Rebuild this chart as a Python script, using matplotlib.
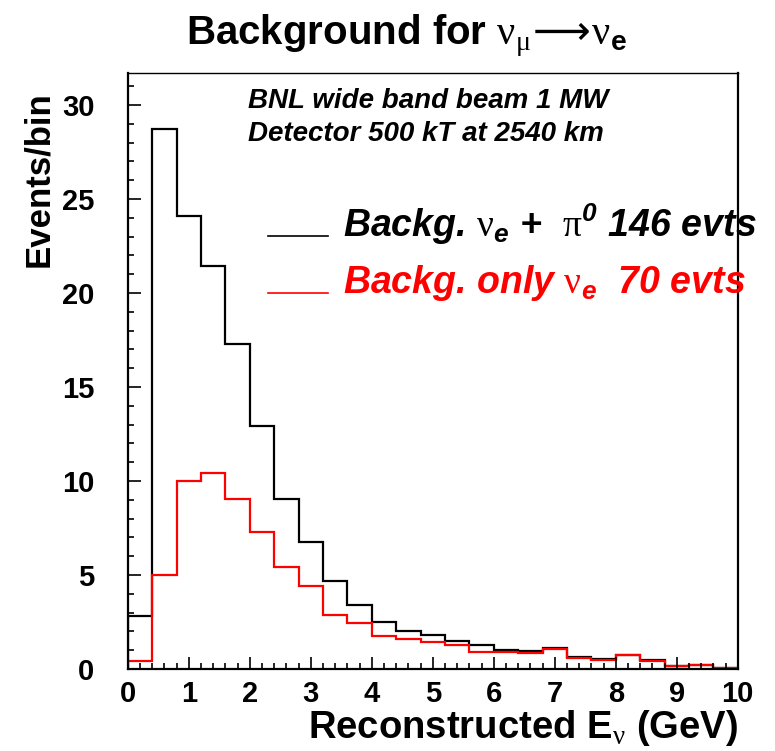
import numpy as np
import matplotlib
matplotlib.use("Agg")
import matplotlib.pyplot as plt
from matplotlib.ticker import MultipleLocator

# ---- data ----
bin_edges = np.round(np.arange(0, 10.0001, 0.4), 2)
bkg_total = [2.8, 28.7, 24.1, 21.45, 17.3, 12.95, 9.05, 6.75, 4.7, 3.4,
             2.5, 2.0, 1.8, 1.5, 1.25, 1.0, 0.95, 1.09, 0.64, 0.52,
             0.75, 0.48, 0.16, 0.23, 0.07]
bkg_nue = [0.42, 5.0, 10.0, 10.44, 9.05, 7.27, 5.4, 4.4, 2.87, 2.42,
           1.76, 1.57, 1.41, 1.27, 0.93, 0.89, 0.86, 1.05, 0.59, 0.48,
           0.73, 0.44, 0.14, 0.2, 0.05]
xticks = [0, 1, 2, 3, 4, 5, 6, 7, 8, 9, 10]
yticks = [0, 5, 10, 15, 20, 25, 30]

plt.rcParams['font.family'] = ['Liberation Sans', 'DejaVu Sans']
plt.rcParams['font.weight'] = 'bold'
plt.rcParams['mathtext.fontset'] = 'custom'
plt.rcParams['mathtext.rm'] = 'Liberation Serif:weight=normal:style=normal'
plt.rcParams['mathtext.bf'] = 'Liberation Sans:weight=bold:style=normal'
plt.rcParams['mathtext.it'] = 'Liberation Sans:weight=bold:style=italic'
plt.rcParams['mathtext.cal'] = 'Liberation Sans:weight=bold:style=italic'
plt.rcParams['mathtext.sf'] = 'DejaVu Sans:weight=normal:style=normal'
plt.rcParams['mathtext.fallback'] = 'stix'

fig = plt.figure(figsize=(7.75, 7.51), dpi=100)
ax = fig.add_axes([0.165, 0.1092, 0.787, 0.7936])

ax.stairs(bkg_total, bin_edges, color='black', lw=1.6, baseline=0)
ax.stairs(bkg_nue, bin_edges, color='#ff0000', lw=1.6, baseline=0)

ax.set_xlim(0, 10)
ax.set_ylim(0, 31.7)
ax.set_xticks(xticks)
ax.set_yticks(yticks)
ax.xaxis.set_minor_locator(MultipleLocator(0.2))
ax.yaxis.set_minor_locator(MultipleLocator(1))
ax.tick_params(which='both', direction='in', top=False, right=False, width=1.2)
ax.tick_params(which='major', length=9)
ax.tick_params(which='minor', length=4.5)
ax.tick_params(axis='x', which='major', labelsize=21, pad=8)
ax.tick_params(axis='y', which='major', labelsize=21, pad=24)
for lab in ax.get_xticklabels() + ax.get_yticklabels():
    lab.set_fontweight('bold')
for s in ['left', 'bottom', 'right']:
    ax.spines[s].set_linewidth(1.6)
ax.spines['top'].set_linewidth(1.0)

ax.set_xlabel(r'Reconstructed E$_{\mathrm{\nu}}$ (GeV)', fontsize=27.5,
              fontweight='bold', ha='right', va='baseline')
ax.xaxis.set_label_coords(1.0, -0.115)
ax.set_ylabel('Events/bin', fontsize=25, fontweight='bold', ha='right',
              va='baseline')
ax.yaxis.set_label_coords(-0.131, 0.97)

fig.text(0.525, 0.941,
         r'Background for $\mathrm{\nu}_{\mathrm{\mu}}\!\mathsf{\longrightarrow}\!\mathrm{\nu}_{\mathbf{e}}$',
         fontsize=29, fontweight='bold', ha='center', va='baseline')

ax.text(0.197, 0.941, 'BNL wide band beam 1 MW', transform=ax.transAxes,
        fontsize=20, fontstyle='italic', fontweight='bold', va='baseline')
ax.text(0.197, 0.886, 'Detector 500 kT at 2540 km', transform=ax.transAxes,
        fontsize=20, fontstyle='italic', fontweight='bold', va='baseline')

ax.plot([0.230, 0.328], [0.7265, 0.7265], color='black', lw=1.2,
        transform=ax.transAxes, clip_on=False)
ax.plot([0.230, 0.328], [0.6315, 0.6315], color='#ff0000', lw=1.2,
        transform=ax.transAxes, clip_on=False)
ax.text(0.353, 0.7255, r'Backg. $\mathrm{\nu}_{\mathit{e}}$ +  $\mathrm{\pi}^{\mathcal{0}}$ 146 evts',
        transform=ax.transAxes, fontsize=27, fontstyle='italic', fontweight='bold',
        va='baseline', color='black')
ax.text(0.353, 0.6305, r'Backg. only $\mathrm{\nu}_{\mathit{e}}$  70 evts',
        transform=ax.transAxes, fontsize=27, fontstyle='italic', fontweight='bold',
        va='baseline', color='#ff0000')

fig.savefig('out.png', dpi=100)
